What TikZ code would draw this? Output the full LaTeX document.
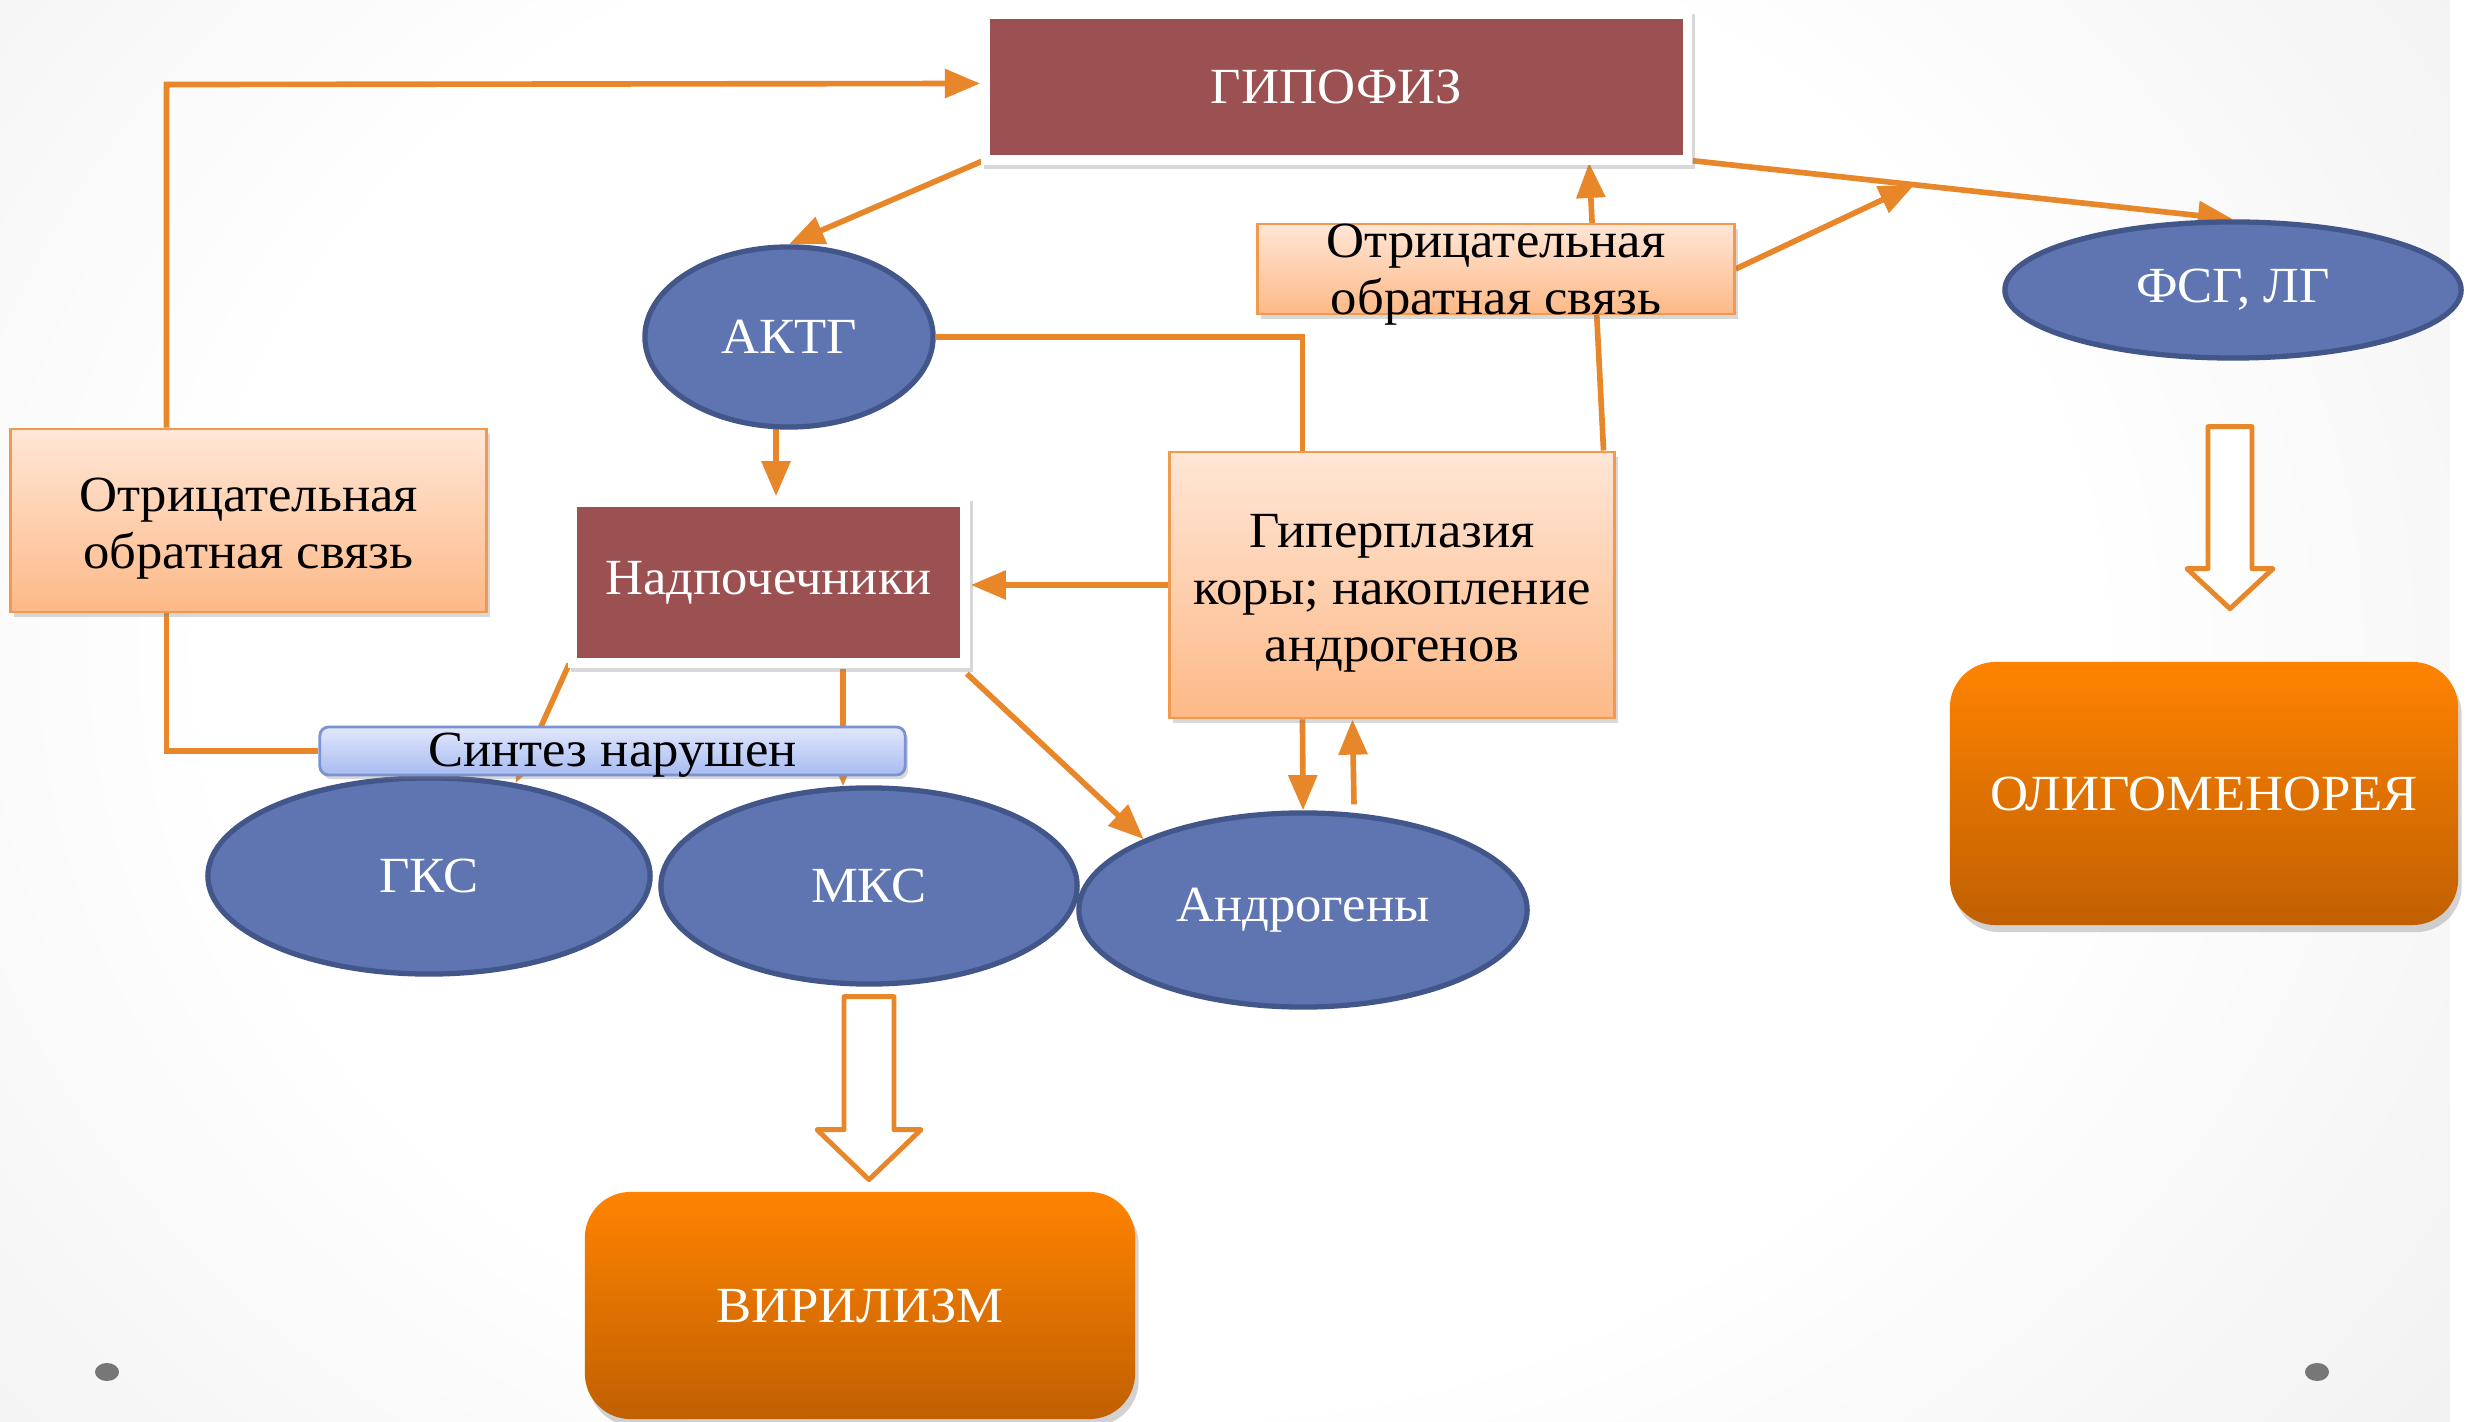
\documentclass[tikz,border=0pt]{standalone}
\usepackage{fontspec}
\setmainfont[FakeStretch=1.04]{Liberation Serif}
\usetikzlibrary{arrows.meta,shapes.geometric,shadows,calc}
\definecolor{lineor}{HTML}{E8862A}
\definecolor{maroonc}{HTML}{9B5051}
\definecolor{ellfill}{HTML}{5E75B2}
\definecolor{elldraw}{HTML}{43568A}
\definecolor{peachtop}{HTML}{FFE6D6}
\definecolor{peachbot}{HTML}{FDB987}
\definecolor{peachdraw}{HTML}{F19A4E}
\definecolor{bluetop}{HTML}{E1E8FC}
\definecolor{bluebot}{HTML}{A8BBF1}
\definecolor{bluedraw}{HTML}{7D92D0}
\definecolor{ortop}{HTML}{FF8300}
\definecolor{orbot}{HTML}{C06002}
\definecolor{bgA}{HTML}{DEDEDE}
\definecolor{bgB}{HTML}{D0D0D0}
\definecolor{dotgray}{HTML}{777777}
\newcommand\dfont{\fontsize{14.4pt}{16.2pt}\selectfont}
\pgfdeclareradialshading{bgshade}{\pgfpoint{0bp}{0bp}}{color(0bp)=(white); color(18bp)=(white); color(50bp)=(bgA); color(72bp)=(bgB)}
\pgfdeclarelayer{bglayer}
\pgfdeclarelayer{linelayer}
\pgfsetlayers{bglayer,linelayer,main}
\begin{document}
\begin{tikzpicture}[x=0.01cm,y=-0.01cm,
  conn/.style={draw=lineor, line width=1.6pt, -{Triangle[length=10pt,width=8pt]}},
  plain/.style={draw=lineor, line width=1.6pt},
  txt/.style={font=\dfont, align=center, inner sep=0pt},
  frame/.style={fill=white, draw=none, inner sep=0pt, drop shadow={shadow xshift=0.8pt, shadow yshift=-1.2pt, opacity=0.3}},
  mbox/.style={fill=maroonc, draw=none, inner sep=0pt, text=white, font=\dfont},
  peach/.style={top color=peachtop, bottom color=peachbot, draw=peachdraw, line width=0.8pt, inner sep=0pt, font=\dfont, align=center, drop shadow={shadow xshift=1pt, shadow yshift=-1.5pt, opacity=0.3}},
  horm/.style={ellipse, fill=ellfill, draw=elldraw, line width=1.5pt, inner sep=0pt, text=white, font=\dfont},
  synbox/.style={rounded corners=2.5pt, top color=bluetop, bottom color=bluebot, draw=bluedraw, line width=0.8pt, inner sep=0pt, font=\dfont, drop shadow={shadow xshift=0.8pt, shadow yshift=-1.2pt, opacity=0.3}},
  result/.style={rounded corners=13pt, top color=ortop, bottom color=orbot, draw=none, inner sep=0pt, text=white, font=\dfont, drop shadow={shadow xshift=1pt, shadow yshift=-2pt, opacity=0.35}},
  hollow/.style={draw=lineor, fill=white, line width=1.4pt, line join=round}
]
\useasboundingbox (0,0) rectangle (2466,1422);
\begin{pgfonlayer}{bglayer}
  \begin{scope}
    \clip (0,0) rectangle (2466,1422);
    \shade[shading=bgshade] (-150,-400) rectangle (2450,1700);
  \end{scope}
  \fill[dotgray] (107,1372) ellipse [x radius=0.12cm, y radius=0.09cm];
  \fill[dotgray] (2317,1372) ellipse [x radius=0.12cm, y radius=0.09cm];
\end{pgfonlayer}

% nodes
\node[frame, minimum width=7.11cm, minimum height=1.55cm] (gip) at (1336.5,87.5) {};
\node[mbox, minimum width=6.93cm, minimum height=1.36cm] (giptx) at (1336.5,87) {ГИПОФИЗ};
\node[peach, minimum width=4.76cm, minimum height=0.9cm] (fbT) at (1496,269) {};
\node[txt] (fbTt) at (1496,275) {Отрицательная\\обратная связь};
\node[peach, minimum width=4.75cm, minimum height=1.83cm] (fbL) at (248.5,520.5) {};
\node[txt] (fbLt) at (248.5,529) {Отрицательная\\обратная связь};
\node[horm, minimum width=2.88cm, minimum height=1.80cm] (aktg) at (789,337) {АКТГ};
\node[horm, minimum width=4.56cm, minimum height=1.36cm] (fsg) at (2233,290) {ФСГ, ЛГ};
\node[frame, minimum width=4.02cm, minimum height=1.71cm] (nadp) at (769,582.5) {};
\node[mbox, minimum width=3.83cm, minimum height=1.51cm] (nadptx) at (768.5,582.5) {Надпочечники};
\node[peach, minimum width=4.44cm, minimum height=2.66cm] (hyp) at (1392,585) {};
\node[txt] (hypt) at (1392,593) {Гиперплазия\\коры; накопление\\андрогенов};
\node[horm, minimum width=4.42cm, minimum height=1.96cm] (gks) at (429,876) {ГКС};
\node[horm, minimum width=4.16cm, minimum height=1.96cm] (mks) at (869,886) {МКС};
\node[horm, minimum width=4.48cm, minimum height=1.94cm] (andr) at (1303,910) {Андрогены};
\node[synbox, minimum width=5.85cm, minimum height=0.48cm, text height=9.1pt, text depth=0pt] (synt) at (612.5,751) {Синтез нарушен};
\node[result, minimum width=5.08cm, minimum height=2.63cm] (olig) at (2204,793.5) {ОЛИГОМЕНОРЕЯ};
\node[result, minimum width=5.50cm, minimum height=2.27cm] (viril) at (860,1305.5) {ВИРИЛИЗМ};

% connectors
\begin{pgfonlayer}{linelayer}
  \draw[conn] ($(fbL.north west)+(157,0)$) -- ++(0,-343) -- ($(gip.west)+(0,-4)$);
  \draw[plain] ($(fbL.south west)+(157,0)$) |- (synt.west);
  \draw[conn] ($(gip.south west)+(3,-5)$) -- (aktg.north);
  \draw[conn] ($(aktg.south)+(-13,-2)$) -- ($(nadp.north)+(7,0)$);
  \draw[plain] (aktg.east) -| ($(hyp.north west)+(134,0)$);
  \draw[conn] (hyp.west) -- (hyp.west -| nadp.east);
  \draw[conn] ($(hyp.north east)+(-12,0)$) -- ($(gip.south west)+(609,-3)$);
  \coordinate (gs) at ($(gip.south east)+(0,-5)$);
  \coordinate (jn) at ($(gs)!0.41!(fsg.north)$);
  \draw[conn] (fbT.east) -- (jn);
  \draw[conn] (gs) -- (fsg.north);
  \draw[conn] ($(nadp.south west)+(2,-5)$) -- (gks.47);
  \draw[conn] ($(nadp.south)+(74,0)$) -- ($(mks.north)+(-26,1)$);
  \draw[conn] ($(nadp.south east)+(-4,5)$) -- (andr.156);
  \draw[conn] ($(hyp.south west)+(134,0)$) -- (andr.north);
  \draw[conn] ($(andr.north)+(51,-6)$) -- ($(hyp.south west)+(184,0)$);
\end{pgfonlayer}

% hollow arrows
\coordinate (va) at ($(mks.south)+(0,10)$);
\draw[hollow] ($(va)+(-25,0)$) -- ($(va)+(25,0)$) -- ($(va)+(25,133)$) -- ($(va)+(52,133)$)
  -- ($(va)+(0,183)$) -- ($(va)+(-52,133)$) -- ($(va)+(-25,133)$) -- cycle;
\coordinate (oa) at ($(fsg.south)+(-3,66)$);
\draw[hollow] ($(oa)+(-22,0)$) -- ($(oa)+(22,0)$) -- ($(oa)+(22,142)$) -- ($(oa)+(43,142)$)
  -- ($(oa)+(0,182)$) -- ($(oa)+(-43,142)$) -- ($(oa)+(-22,142)$) -- cycle;
\end{tikzpicture}
\end{document}
